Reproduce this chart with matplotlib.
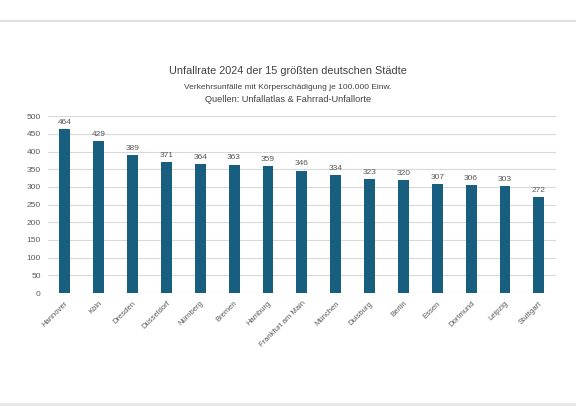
import matplotlib.pyplot as plt
import numpy as np

# Unfallrate je 100.000 Einw.
cities = ['Hannover', 'Köln', 'Dresden', 'Düsseldorf', 'Nürnberg', 'Bremen',
          'Hamburg', 'Frankfurt am Main', 'München', 'Duisburg', 'Berlin',
          'Essen', 'Dortmund', 'Leipzig', 'Stuttgart']
rates = [464, 429, 389, 371, 364, 363, 359, 346, 334, 323, 320, 307, 306, 303, 272]
yticks = [0, 50, 100, 150, 200, 250, 300, 350, 400, 450, 500]

plt.rcParams['font.family'] = ['Liberation Sans', 'DejaVu Sans']

fig = plt.figure(figsize=(5.76, 4.18), dpi=100)
ax = fig.add_axes([0.083, 0.299, 0.882, 0.423])

x = np.arange(len(cities))
bars = ax.bar(x, rates, width=0.32, color='#175e7f', zorder=3)
for xi, r in zip(x, rates):
    ax.text(xi, r + 9, str(r), ha='center', va='bottom', fontsize=6, color='#595959')

ax.set_xlim(-0.5, len(cities) - 0.5)
ax.set_ylim(0, 500)
ax.set_yticks(yticks)
ax.set_yticklabels([str(t) for t in yticks], fontsize=6, color='#595959')
ax.set_xticks(x)
ax.set_xticklabels(cities, rotation=45, ha='right', rotation_mode='anchor',
                   fontsize=5.5, color='#595959')
ax.tick_params(length=0, pad=5)
ax.grid(axis='y', color='#d9d9d9', linewidth=0.8, zorder=0)
for s in ax.spines.values():
    s.set_visible(False)

fig.text(0.5, 0.822, 'Unfallrate 2024 der 15 größten deutschen Städte',
         ha='center', fontsize=7.8, color='#404040')
fig.text(0.5, 0.788, 'Verkehrsunfälle mit Körperschädigung je 100.000 Einw.',
         ha='center', fontsize=6, color='#404040')
fig.text(0.5, 0.757, 'Quellen: Unfallatlas & Fahrrad-Unfallorte',
         ha='center', fontsize=6.6, color='#404040')

# graue Trennlinien oben und unten
fig.add_artist(plt.Line2D([0, 1], [1 - 21 / 418, 1 - 21 / 418], color='#d9d9d9', lw=1.2))
fig.add_artist(plt.Line2D([0, 1], [1 - 404 / 418, 1 - 404 / 418], color='#e6e6e6', lw=2))

fig.savefig('out.png', dpi=100)
